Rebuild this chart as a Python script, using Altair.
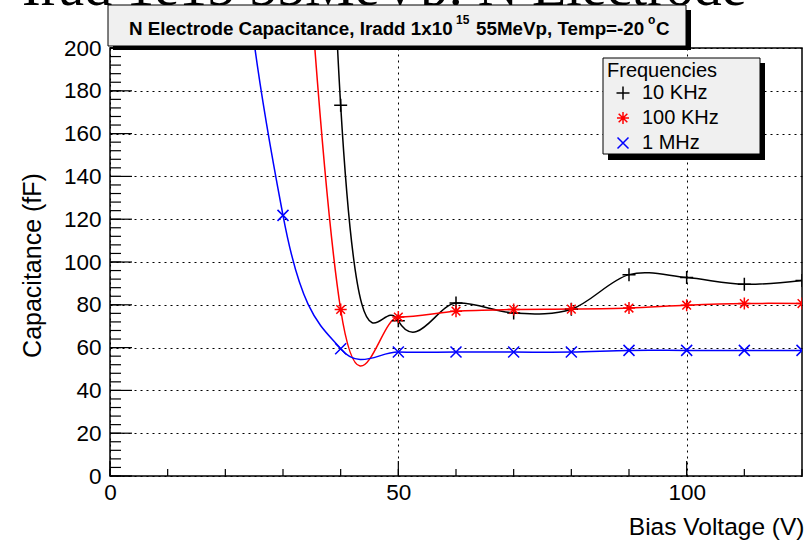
import altair as alt
import pandas as pd

# ---------------- data ----------------
voltage = [10, 20, 30, 40, 50, 60, 70, 80, 90, 100, 110, 120]
cap_10khz = [2000, 1500, 971, 173.2, 72.5, 80.8, 76.2, 77.9, 94.1, 92.7, 89.6, 91.4]
cap_100khz = [1400, 901, 419, 77.8, 74.3, 77.0, 77.8, 78.0, 78.5, 79.8, 80.6, 80.6]
cap_1mhz = [903, 345, 121.8, 59.5, 57.9, 57.9, 57.9, 57.9, 58.7, 58.7, 58.7, 58.7]

series_names = ["10 KHz", "100 KHz", "1 MHz"]
series_colors = ["#000000", "#ff0000", "#0000ff"]
series_shapes = [
    "M-1,0L1,0M0,-1L0,1",
    "M-1,0L1,0M0,-1L0,1M-0.72,-0.72L0.72,0.72M-0.72,0.72L0.72,-0.72",
    "M-1,-1L1,1M-1,1L1,-1",
]
series_sizes = [169, 121, 100]

y_major = list(range(0, 201, 20))
y_minor = list(range(0, 201, 4))
x_major = [0, 50, 100]
x_minor = list(range(0, 121, 10))

rows = []
for name, vals in zip(series_names, [cap_10khz, cap_100khz, cap_1mhz]):
    for v, c in zip(voltage, vals):
        rows.append({"voltage": v, "cap": c, "series": name})
df = pd.DataFrame(rows)

W, H = 692, 428
FONT = "Liberation Sans"

x_scale = alt.Scale(domain=[0, 120], nice=False, zero=False)
y_scale = alt.Scale(domain=[0, 200], nice=False)
color_scale = alt.Scale(domain=series_names, range=series_colors)
shape_scale = alt.Scale(domain=series_names, range=series_shapes)
size_scale = alt.Scale(domain=series_names, range=series_sizes)

x_axis = alt.Axis(
    values=x_major, ticks=False, domain=False, grid=True,
    gridColor="black", gridDash=[2, 4], gridWidth=1,
    labelFont=FONT, labelFontSize=22.5, labelColor="black", labelPadding=5,
    labelFlush=False,
    title="Bias Voltage (V)", titleFont=FONT, titleFontSize=24.5,
    titleFontWeight="normal", titleColor="black",
    titleX=694, titleY=58, titleAlign="right", titleBaseline="alphabetic",
)
y_axis = alt.Axis(
    values=y_major, ticks=False, domain=False, grid=True,
    gridColor="black", gridDash=[2, 4], gridWidth=1,
    labelFont=FONT, labelFontSize=22.5, labelColor="black", labelPadding=9,
    labelFlush=False,
    title="Capacitance (fF)", titleFont=FONT, titleFontSize=25,
    titleFontWeight="normal", titleColor="black",
    titleX=-78, titleY=217, titleAngle=270, titleAlign="center",
    titleBaseline="middle",
)

legend = alt.Legend(
    title="Frequencies", orient="none", legendX=497, legendY=13,
    titleFont=FONT, titleFontSize=20, titleFontWeight="normal", titleColor="black",
    titlePadding=2, labelFont=FONT, labelFontSize=20, labelColor="black",
    symbolOffset=6, labelOffset=9, rowPadding=5, padding=0,
    symbolStrokeWidth=1.5,
)

lines = alt.Chart(df).mark_line(interpolate="cardinal", clip=True, strokeWidth=1.5).encode(
    x=alt.X("voltage:Q", scale=x_scale, axis=x_axis),
    y=alt.Y("cap:Q", scale=y_scale, axis=y_axis),
    color=alt.Color("series:N", scale=color_scale, legend=legend),
)

points = alt.Chart(df).mark_point(clip=True, filled=False, strokeWidth=1.5, opacity=1).encode(
    x=alt.X("voltage:Q", scale=x_scale, axis=x_axis),
    y=alt.Y("cap:Q", scale=y_scale, axis=y_axis),
    color=alt.Color("series:N", scale=color_scale, legend=legend),
    shape=alt.Shape("series:N", scale=shape_scale, legend=legend),
    size=alt.Size("series:N", scale=size_scale, legend=legend),
)

# inside ticks (ROOT style)
y_minor_ticks = alt.Chart(pd.DataFrame({"cap": y_minor})).mark_rule(color="black", strokeWidth=1.2).encode(
    y=alt.Y("cap:Q", scale=y_scale, axis=y_axis), x=alt.value(0), x2=alt.value(11))
y_major_ticks = alt.Chart(pd.DataFrame({"cap": y_major})).mark_rule(color="black", strokeWidth=1.2).encode(
    y=alt.Y("cap:Q", scale=y_scale, axis=y_axis), x=alt.value(0), x2=alt.value(22))
x_minor_ticks = alt.Chart(pd.DataFrame({"voltage": x_minor})).mark_rule(color="black", strokeWidth=1.2).encode(
    x=alt.X("voltage:Q", scale=x_scale, axis=x_axis), y=alt.value(H), y2=alt.value(H - 7))
x_major_ticks = alt.Chart(pd.DataFrame({"voltage": x_major})).mark_rule(color="black", strokeWidth=1.2).encode(
    x=alt.X("voltage:Q", scale=x_scale, axis=x_axis), y=alt.value(H), y2=alt.value(H - 15))

one = pd.DataFrame({"k": [0]})


def box(x1, x2, y1, y2, fill, stroke=None):
    kw = dict(fill=fill)
    if stroke:
        kw.update(stroke=stroke, strokeWidth=1)
    return alt.Chart(one).mark_rect(**kw).encode(
        x=alt.value(x1), x2=alt.value(x2), y=alt.value(y1), y2=alt.value(y2))


def label(txt, x, y, size, weight="normal", font=FONT, align="left"):
    return alt.Chart(one).mark_text(
        text=txt, font=font, fontSize=size, fontWeight=weight, color="black",
        align=align, baseline="alphabetic").encode(x=alt.value(x), y=alt.value(y))


big_title = label("Irad 1e15  55MeVp: N Electrode", -88, -43, 56, font="Liberation Serif")

title_shadow = box(3, 581, -38, 2, "black")
title_box = box(-2, 576, -43, -2, "#f0f0f0", "black")
t1 = label("N Electrode Capacitance, Iradd 1x10", 19, -13, 18.8, "bold")
t2 = label("15", 346, -24, 12, "bold")
t3 = label("55MeVp, Temp=-20", 366, -13, 18.8, "bold")
t4 = label("o", 538, -24, 12, "bold")
t5 = label("C", 546, -13, 18.8, "bold")

leg_shadow = box(498, 655, 15, 112, "black")
leg_box = box(493, 650, 10, 106, "#f0f0f0", "black")

chart = alt.layer(
    big_title,
    y_minor_ticks, y_major_ticks, x_minor_ticks, x_major_ticks,
    lines, points,
    title_shadow, title_box, t1, t2, t3, t4, t5,
    leg_shadow, leg_box,
).properties(
    width=W, height=H,
    autosize=alt.AutoSizeParams(type="none"),
    padding={"left": 110, "top": 48, "right": 8, "bottom": 67},
    background="white",
).configure_view(
    stroke="black", strokeWidth=1.5
)

chart.save("out.html", embed_options={"renderer": "svg", "actions": False})
